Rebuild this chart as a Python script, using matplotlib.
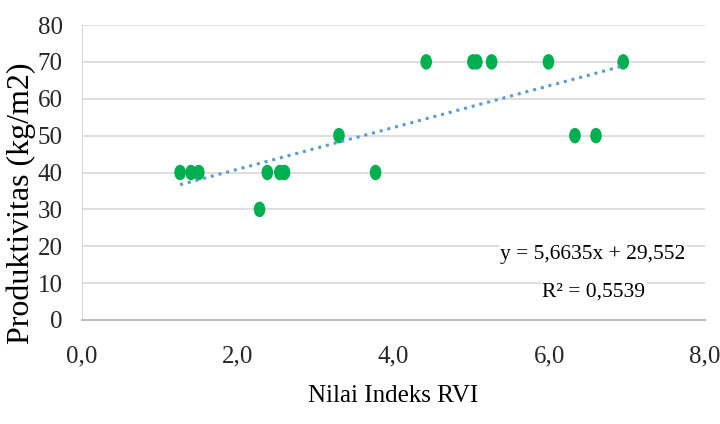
import matplotlib
matplotlib.use("Agg")
import matplotlib.pyplot as plt
import numpy as np
from matplotlib.path import Path
from matplotlib.transforms import Affine2D

# Data
rvi = [1.26, 1.40, 1.50, 2.28, 2.38, 2.54, 2.60, 3.30, 3.77, 4.42,
       5.02, 5.07, 5.26, 5.99, 6.33, 6.60, 6.95]
produktivitas = [40, 40, 40, 30, 40, 40, 40, 50, 40, 70,
                 70, 70, 70, 70, 50, 50, 70]

slope = 5.6635
intercept = 29.552
r2_label = "R² = 0,5539"
eq_label = "y = 5,6635x + 29,552"

x_ticks = [0, 2, 4, 6, 8]
x_ticklabels = ["0,0", "2,0", "4,0", "6,0", "8,0"]
y_ticks = [0, 10, 20, 30, 40, 50, 60, 70, 80]

plt.rcParams['font.family'] = ['Liberation Serif', 'DejaVu Serif']

fig = plt.figure(figsize=(7.2, 4.24), dpi=100)
ax = fig.add_axes([82/720, 1-320/424, (705-82)/720, (320-25)/424])

ellipse = Path.unit_circle().transformed(Affine2D().scale(0.75, 1.0))
ax.scatter(rvi, produktivitas, s=125, marker=ellipse, color="#00B050",
           edgecolors="none", zorder=3)

xs = np.array([min(rvi), max(rvi)])
ax.plot(xs, slope*xs + intercept, color="#5B9BD5", lw=2.2,
        linestyle=(0, (1, 1.6)), zorder=4)

ax.set_xlim(0, 8)
ax.set_ylim(0, 80)
ax.set_xticks(x_ticks)
ax.set_xticklabels(x_ticklabels)
ax.set_yticks(y_ticks)
ax.grid(axis='y', color="#d9d9d9", lw=1.2)
ax.set_axisbelow(True)
for s in ['top', 'right']:
    ax.spines[s].set_visible(False)
ax.spines['left'].set_color("#d9d9d9")
ax.spines['bottom'].set_color("#bfbfbf")
ax.spines['bottom'].set_linewidth(1.5)
ax.tick_params(axis='both', length=0, labelsize=18, colors="#262626")
ax.tick_params(axis='y', pad=14)
ax.tick_params(axis='x', pad=18)

ax.set_xlabel("Nilai Indeks RVI", fontsize=18, labelpad=13)
ax.set_ylabel("Produktivitas (kg/m2)", fontsize=23, va='center')
ax.yaxis.set_label_coords((21-82)/623, (320-203)/295)

ax.text(593/720, 1-255/424, eq_label, transform=fig.transFigure,
        ha='center', va='center', fontsize=15.5,
        bbox=dict(facecolor='white', edgecolor='none', pad=1))
ax.text(594/720, 1-292/424, r2_label, transform=fig.transFigure,
        ha='center', va='center', fontsize=15.5,
        bbox=dict(facecolor='white', edgecolor='none', pad=1))

fig.savefig("out.png", dpi=100)
